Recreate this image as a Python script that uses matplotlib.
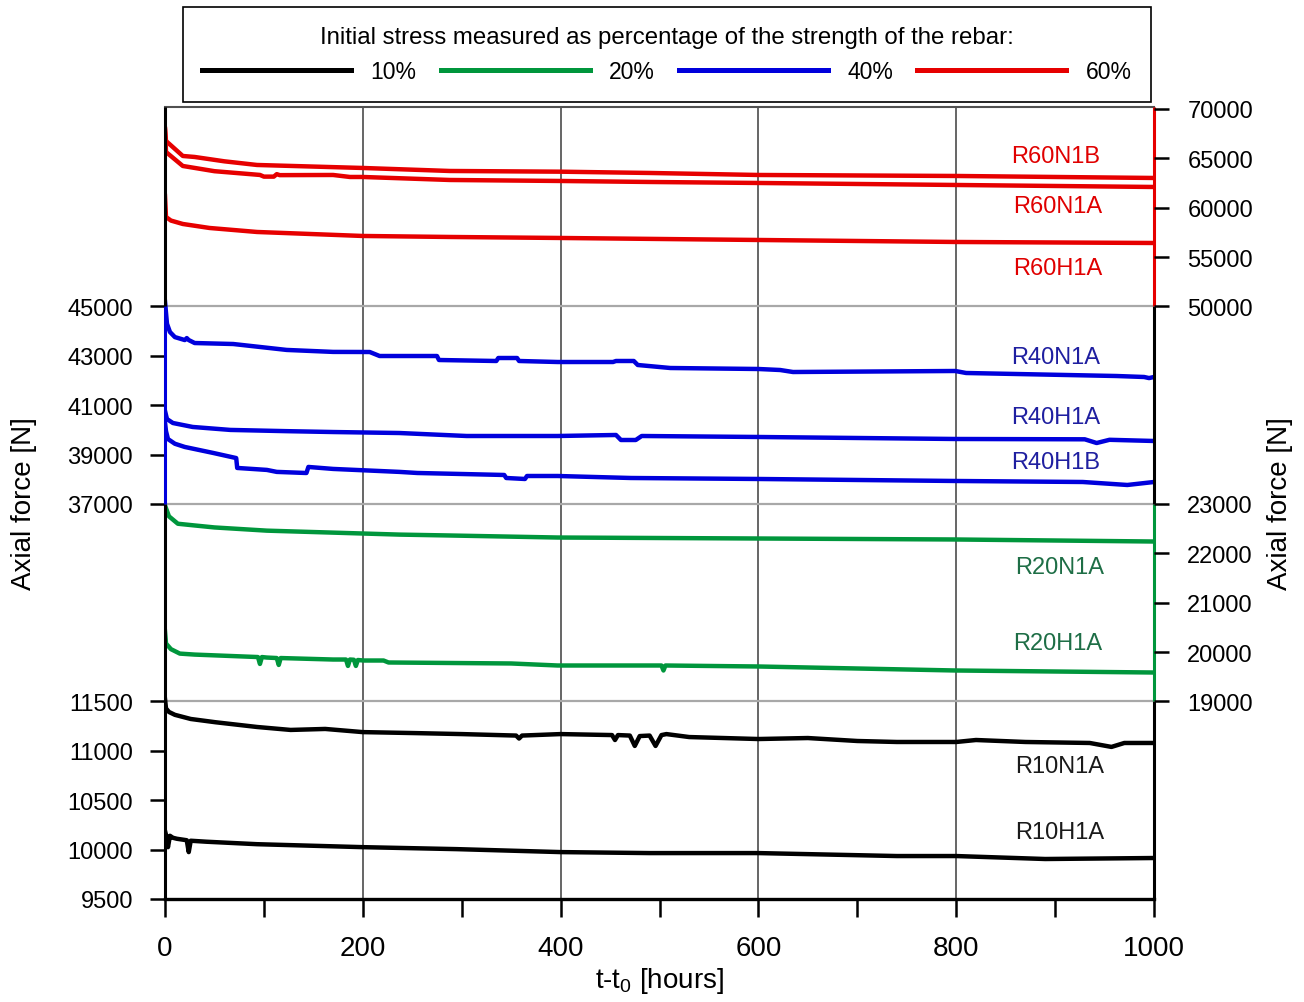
import matplotlib.pyplot as plt
from matplotlib.lines import Line2D

plt.rcParams['font.family'] = ['Liberation Sans', 'DejaVu Sans']
plt.rcParams['mathtext.default'] = 'regular'

# time [hours] / axial force [N] for each rebar specimen
t_R10N1A = [0, 1, 4, 10, 26, 51, 93, 127, 162, 200, 253, 300, 355, 358, 361, 400, 452, 455, 458,
            470, 475, 480, 490, 496, 502, 507, 530, 600, 650, 700, 740, 800, 820, 870, 935,
            957, 970, 1000]
F_R10N1A = [11525, 11430, 11394, 11365, 11323, 11290, 11242, 11212, 11222, 11190, 11180, 11170,
            11155, 11125, 11155, 11170, 11160, 11110, 11160, 11155, 11050, 11150, 11155, 11050,
            11160, 11170, 11140, 11120, 11130, 11100, 11090, 11090, 11110, 11090, 11080, 11040,
            11080, 11080]

t_R10H1A = [0, 1, 3, 5, 8, 12, 22, 24, 26, 42, 93, 200, 295, 400, 490, 600, 740, 800, 890, 1000]
F_R10H1A = [10190, 10150, 10025, 10140, 10120, 10110, 10095, 9975, 10090, 10080, 10055, 10025,
            10005, 9975, 9965, 9965, 9935, 9935, 9905, 9915]

t_R20N1A = [0, 4, 13, 30, 50, 103, 170, 237, 288, 397, 600, 800, 1000]
F_R20N1A = [22970, 22750, 22600, 22565, 22525, 22460, 22420, 22380, 22362, 22321, 22301, 22281,
            22240]

t_R20H1A = [0, 1, 6, 15, 30, 94, 96, 98, 103, 113, 115, 117, 170, 183, 185, 187, 191, 193, 195,
            201, 221, 226, 350, 397, 502, 504, 506, 600, 799, 1000]
F_R20H1A = [20420, 20175, 20060, 19970, 19950, 19900, 19760, 19900, 19890, 19880, 19740, 19880,
            19850, 19850, 19720, 19850, 19845, 19720, 19840, 19830, 19830, 19790, 19770, 19729,
            19729, 19628, 19729, 19709, 19628, 19587]

t_R40N1A = [0, 2, 5, 10, 20, 22, 24, 30, 69, 123, 170, 207, 217, 275, 277, 335, 337, 356, 358,
            397, 453, 456, 474, 478, 511, 600, 622, 635, 799, 810, 962, 990, 995, 1000]
F_R40N1A = [45200, 44300, 43966, 43760, 43640, 43720, 43640, 43520, 43480, 43240, 43160, 43156,
            42994, 42994, 42832, 42792, 42913, 42913, 42792, 42751, 42751, 42792, 42792, 42630,
            42508, 42468, 42427, 42346, 42387, 42306, 42184, 42144, 42100, 42144]

t_R40H1A = [0, 2, 8, 28, 66, 123, 170, 237, 305, 397, 456, 461, 476, 482, 600, 799, 930, 942,
            955, 1000]
F_R40H1A = [40770, 40440, 40280, 40120, 40000, 39950, 39915, 39875, 39754, 39754, 39795, 39592,
            39592, 39754, 39714, 39633, 39620, 39470, 39600, 39552]

t_R40H1B = [0, 1, 3, 10, 20, 49, 72, 73, 103, 113, 143, 145, 170, 237, 255, 343, 345, 364, 366,
            397, 471, 600, 799, 928, 973, 1000]
F_R40H1B = [40300, 39950, 39630, 39440, 39310, 39065, 38860, 38460, 38380, 38300, 38255, 38500,
            38420, 38300, 38256, 38175, 38053, 38013, 38134, 38134, 38053, 38013, 37932, 37891,
            37770, 37891]

t_R60N1B = [0, 1, 18, 30, 60, 93, 200, 288, 400, 490, 600, 800, 1000]
F_R60N1B = [67975, 66760, 65241, 65140, 64700, 64330, 64026, 63722, 63650, 63520, 63317, 63216,
            63013]

t_R60N1A = [0, 1, 18, 50, 96, 100, 110, 113, 116, 170, 187, 200, 288, 400, 490, 600, 800, 1000]
F_R60N1A = [67975, 65646, 64228, 63700, 63320, 63150, 63150, 63400, 63300, 63317, 63114, 63114,
            62810, 62709, 62608, 62507, 62304, 62101]

t_R60H1A = [0, 1, 6, 18, 45, 93, 200, 288, 400, 600, 800, 1000]
F_R60H1A = [61190, 59064, 58700, 58355, 57950, 57545, 57140, 57039, 56937, 56734, 56532, 56430]

# each stress level gets its own band of the plot: (lowest force, force per band unit, band start)
bands = {'10%': (9500, 500, 0), '20%': (19000, 1000, 4),
         '40%': (37000, 2000, 8), '60%': (50000, 5000, 12)}
colors = {'10%': '#000000', '20%': '#00963c', '40%': '#0000dc', '60%': '#e60000'}
text_colors = {'10%': '#1a1a1a', '20%': '#1e6e46', '40%': '#1f1fa0', '60%': '#e00000'}

series = [
    ('R10N1A', '10%', t_R10N1A, F_R10N1A), ('R10H1A', '10%', t_R10H1A, F_R10H1A),
    ('R20N1A', '20%', t_R20N1A, F_R20N1A), ('R20H1A', '20%', t_R20H1A, F_R20H1A),
    ('R40N1A', '40%', t_R40N1A, F_R40N1A), ('R40H1A', '40%', t_R40H1A, F_R40H1A),
    ('R40H1B', '40%', t_R40H1B, F_R40H1B),
    ('R60N1B', '60%', t_R60N1B, F_R60N1B), ('R60N1A', '60%', t_R60N1A, F_R60N1A),
    ('R60H1A', '60%', t_R60H1A, F_R60H1A),
]

# where the specimen names sit (hours, band units)
label_pos = {'R60N1B': (901, 15.05), 'R60N1A': (903, 14.04), 'R60H1A': (903, 12.78),
             'R40N1A': (901, 10.98), 'R40H1A': (901, 9.76), 'R40H1B': (901, 8.85),
             'R20N1A': (905, 6.72), 'R20H1A': (903, 5.18),
             'R10N1A': (905, 2.69), 'R10H1A': (905, 1.36)}

left_ticks = [9500, 10000, 10500, 11000, 11500, 37000, 39000, 41000, 43000, 45000]
left_groups = ['10%'] * 5 + ['40%'] * 5
right_ticks = [19000, 20000, 21000, 22000, 23000, 50000, 55000, 60000, 65000, 70000]
right_groups = ['20%'] * 5 + ['60%'] * 5


def to_band(values, group):
    lo, step, base = bands[group]
    return [base + (v - lo) / step for v in values]


fig = plt.figure(figsize=(13.04, 10.03), dpi=100)
ax = fig.add_axes([165 / 1304, 1 - 900 / 1003, 989 / 1304, 792 / 1003])
ax.set_xlim(0, 1000)
ax.set_ylim(0, 16.04)

for xv in [200, 400, 600, 800]:
    ax.axvline(xv, color='#3c3c3c', lw=1.1, zorder=1)
for yv in [4, 8, 12]:
    ax.axhline(yv, color='#a8a8a8', lw=1.6, zorder=1)

for name, grp, t, F in series:
    ax.plot(t, to_band(F, grp), color=colors[grp], lw=3.2, zorder=3, solid_joinstyle='round')
    x, y = label_pos[name]
    ax.text(x, y, name, color=text_colors[grp], fontsize=17, ha='center', va='center')

# axis frame drawn in coloured pieces
for s in ['left', 'right', 'bottom']:
    ax.spines[s].set_visible(False)
ax.spines['top'].set_color('#505050')
ax.spines['top'].set_linewidth(1.5)
yt = ax.get_yaxis_transform()
for x0, pieces in [(0, [(0, 8, 'black'), (8, 12, colors['40%']), (12, 16.04, 'black')]),
                   (1, [(0, 4, 'black'), (4, 8, colors['20%']), (8, 12, 'black'),
                        (12, 16.04, colors['60%'])])]:
    for a, b, c in pieces:
        ax.plot([x0, x0], [a, b], transform=yt, color=c, lw=2.2, clip_on=False,
                solid_capstyle='butt', zorder=4)
ax.plot([0, 1], [0, 0], transform=ax.transAxes, color='black', lw=2.4, clip_on=False,
        solid_capstyle='projecting', zorder=4)

ax.set_xticks(range(0, 1001, 100))
ax.set_xticklabels([str(v) if v % 200 == 0 else '' for v in range(0, 1001, 100)])
ax.tick_params(axis='x', direction='out', length=13, width=1.8, labelsize=20, pad=13)

ax.set_yticks([to_band([v], g)[0] for v, g in zip(left_ticks, left_groups)])
ax.set_yticklabels([str(v) for v in left_ticks])
ax.tick_params(axis='y', direction='out', length=11, width=1.8, labelsize=17, pad=12)
for tk, g in zip(ax.yaxis.get_major_ticks(), left_groups):
    tk.tick1line.set_color(colors[g] if g == '40%' else 'black')

ax2 = ax.twinx()
ax2.set_ylim(ax.get_ylim())
for s in ax2.spines.values():
    s.set_visible(False)
ax2.set_yticks([to_band([v], g)[0] for v, g in zip(right_ticks, right_groups)])
ax2.set_yticklabels([str(v) for v in right_ticks])
ax2.tick_params(axis='y', direction='out', length=11, width=1.8, labelsize=17, pad=13)
for tk, g in zip(ax2.yaxis.get_major_ticks(), right_groups):
    tk.tick2line.set_color(colors[g])

ax.set_xlabel('t-t$_0$ [hours]', fontsize=20, labelpad=3)
ax.set_ylabel('Axial force [N]', fontsize=20, labelpad=22)
ax2.set_ylabel('Axial force [N]', fontsize=20, labelpad=10)

handles = [Line2D([], [], color=colors[g], lw=3.6) for g in bands]
leg = fig.legend(handles, list(bands), ncol=4, loc='upper center',
                 bbox_to_anchor=(667 / 1304, 1 - 8 / 1003), borderaxespad=0,
                 title='Initial stress measured as percentage of the strength of the rebar:',
                 title_fontsize=17.3, fontsize=16.5, handlelength=6.5, handletextpad=0.85,
                 columnspacing=1.05, borderpad=0.85, fancybox=False, framealpha=1)
leg.get_frame().set_edgecolor('black')
leg.get_frame().set_linewidth(1.2)

fig.savefig('out.png', dpi=100)
